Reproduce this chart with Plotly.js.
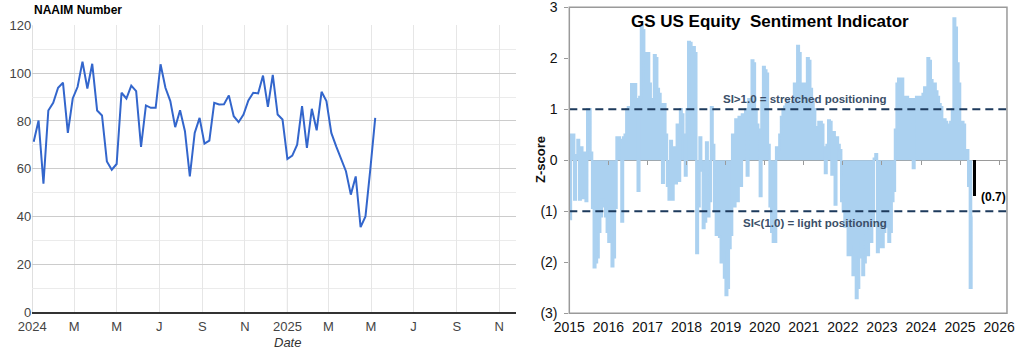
<!DOCTYPE html>
<html>
<head>
<meta charset="utf-8">
<script src="https://cdn.plot.ly/plotly-3.0.1.min.js"></script>
<style>html,body{margin:0;padding:0;background:#fff;}#chart{width:1019px;height:353px;}</style>
</head>
<body>
<div id="chart"></div>
<script>
// ---------------- NAAIM (left panel) ----------------
const naaimStart = '2024-01-03';           // first weekly reading
const naaimValues = [71.3, 80.2, 53.8, 84.4, 87.6, 93.9, 96.0, 75.0, 89.4, 94.3,
  104.8, 93.6, 103.9, 84.4, 82.3, 63.1, 59.6, 62.0, 91.8, 89.4,
  94.8, 92.5, 69.2, 86.5, 85.5, 85.5, 103.7, 93.9, 88.3, 77.4,
  84.5, 75.7, 56.8, 75.0, 81.3, 70.5, 71.8, 87.6, 86.9, 87.0,
  90.7, 82.0, 79.5, 82.7, 88.6, 91.8, 91.5, 99.0, 85.9, 99.3,
  82.7, 80.6, 64.1, 65.5, 70.1, 86.2, 68.7, 85.1, 76.1, 92.2,
  88.3, 75.0, 69.4, 64.5, 59.0, 49.2, 56.8, 35.6, 40.1, 60.0, 81.3];
const naaimTickVals = ['2024-01-01','2024-03-01','2024-05-01','2024-07-01','2024-09-01','2024-11-01',
  '2025-01-01','2025-03-01','2025-05-01','2025-07-01','2025-09-01','2025-11-01'];
const naaimTickText = ['2024','M','M','J','S','N','2025','M','M','J','S','N'];

// ---------------- GS Sentiment Indicator (right panel), half-monthly ----------------
const gs2015 = [-1.15,0.5, 0.5,-0.77, 0.1,0.4, -0.77,0.25, -0.74,0.15, -0.8,1.0, 1.0,0.15, -0.93,-2.1, -2.0,-1.9, -1.4,-1.1, -0.77,-0.9, -1.1,-1.4];
const gs2016 = [-1.6,-1.4, -2.08,-1.9, -0.93,0.45, 0.45,0.4, -1.2,0.45, 0.5,1.0, 1.04,0.9, 1.49,1.24, 1.49,1.2, -0.6,1.24, 2.63,2.55, 2.1,1.5];
const gs2017 = [2.1,1.5, 1.0,1.2, 2.06,2.0, 1.4,1.3, 1.1,-0.44, 1.1,0.5, -0.5,-0.77, 0.38,-0.77, 0.25,-0.45, 0.7,-0.4, 1.0,0.9, 0.5,-0.3];
const gs2018 = [1.0,2.32, 2.3,0.5, 2.22,2.1, -1.82,-0.9, 0.45,-0.2, -1.33,-1.2, 0.35,-1.1, -0.8,1.04, 0.3,-1.0, -1.46,-1.3, -1.5,-2.0, -1.8,-2.3];
const gs2019 = [-2.64,-2.5, -1.72,-1.46, 0.5,-0.9, 0.8,-0.8, 0.85,-0.5, 0.9,0.6, 1.0,-0.3, 1.2,0.9, 1.96,1.9, 1.0,0.7, 0.6,-0.7, 1.2,1.83];
const gs2020 = [1.76,1.7, 0.3,-0.9, -1.4,-1.6, -1.6,0.25, 0.2,0.5, 0.85,1.0, 1.05,1.1, 1.17,1.1, 1.0,1.15, 1.5,1.3, 2.24,2.1, 1.5,1.45];
const gs2021 = [1.5,1.3, 2.0,1.95, 1.4,1.2, 1.0,0.65, 0.6,0.75, 0.75,0.7, 0.25,-0.25, 0.3,0.78, 0.75,-0.28, 0.55,-0.87, 0.45,0.3, 0.2,-0.8];
const gs2022 = [-1.0,-1.3, -1.1,-1.86, -1.7,-1.86, -2.25,-2.0, -2.7,-2.5, -1.9,-1.6, -2.25,-2.0, -1.46,-1.86, -1.3,-1.6, -1.2,0.03, 0.12,-1.8, -1.3,-1.7];
const gs2023 = [-1.7,-1.4, -1.06,-1.3, -1.6,-1.4, -0.8,-0.6, 0.6,1.5, 1.6,1.55, 1.6,1.24, 1.2,1.24, 1.0,1.2, 1.2,-0.15, 1.2,1.24, 1.24,1.2];
const gs2024 = [1.24,1.3, 1.43,1.4, 2.0,1.95, 1.57,1.5, 1.5,1.35, 1.24,1.1, 1.04,0.8, 0.8,0.75, 0.7,0.7, 0.75,1.0, 2.78,2.6, 1.9,1.5];
const gs2025 = [0.7,0.75, 0.7,0.2, 0.2,-0.5, -2.5,-1.1];
const gsYears = [2015,2016,2017,2018,2019,2020,2021,2022,2023,2024,2025];
const gsSeries = [gs2015,gs2016,gs2017,gs2018,gs2019,gs2020,gs2021,gs2022,gs2023,gs2024,gs2025];
const gsLatest = -0.7;              // latest reading, highlighted
const gsLatestDate = 2025.37;
const gsThresholds = [1, -1];
const gsTickYears = [2015,2016,2017,2018,2019,2020,2021,2022,2023,2024,2025,2026];
const gsYTicks = [-3,-2,-1,0,1,2,3];
const gsYText = ['(3)','(2)','(1)','0','1','2','3'];

// ---------- build ----------
const naaimDates = naaimValues.map((v,i)=>{
  const d = new Date(naaimStart+'T00:00:00Z'); d.setUTCDate(d.getUTCDate()+7*i);
  return d.toISOString().slice(0,10);
});
const gsX = [], gsY = [];
gsSeries.forEach((arr,yi)=>arr.forEach((v,k)=>{ gsX.push(gsYears[yi]+(k+0.5)/24); gsY.push(v); }));

const FONT = 'Arial, "Liberation Sans", sans-serif';
const BLUE = '#abd1f0';
const traces = [
  {x: naaimDates, y: naaimValues, type:'scatter', mode:'lines', xaxis:'x', yaxis:'y',
   line:{color:'#3366cc', width:2}, hoverinfo:'skip'},
  // dense weekly-style columns drawn as a stepped filled area
  {x: gsX, y: gsY, type:'scatter', mode:'lines', xaxis:'x2', yaxis:'y2',
   line:{color:BLUE, width:2.4, shape:'hvh'}, fill:'tozeroy', fillcolor:BLUE, hoverinfo:'skip'},
  {x: [gsLatestDate], y: [gsLatest], type:'bar', xaxis:'x2', yaxis:'y2', width: 0.085,
   marker:{color:'#000', line:{width:0}}, hoverinfo:'skip'},
  {x: [2015], y: [0], type:'scatter', mode:'markers', xaxis:'x3', yaxis:'y2',
   marker:{opacity:0}, hoverinfo:'skip'}
];

const yearShapes = naaimTickVals.filter((v,i)=>/^\d{4}$/.test(naaimTickText[i])).map(v=>({
  type:'line', xref:'x', yref:'y domain', x0:v, x1:v, y0:0, y1:1,
  line:{color:'#c6c6c6', width:1}, layer:'below'}));
const threshShapes = gsThresholds.map(t=>({
  type:'line', xref:'x2 domain', yref:'y2', x0:0, x1:1, y0:t, y1:t,
  line:{color:'#1d3a5c', width:2, dash:'8px,5px'}}));
const boxShape = [{type:'rect', xref:'x2 domain', yref:'y2 domain', x0:0, x1:1, y0:0, y1:1,
  line:{color:'#9a9a9a', width:1.5}, fillcolor:'rgba(0,0,0,0)'}];

const layout = {
  width:1019, height:353, margin:{l:0,r:0,t:0,b:0},
  paper_bgcolor:'#fff', plot_bgcolor:'#fff', showlegend:false, bargap:0, barmode:'overlay',
  font:{family:FONT, size:13, color:'#444'},
  xaxis:{type:'date', domain:[0.0317,0.5064], anchor:'y', range:['2024-01-01','2025-11-25'],
    tickmode:'array', tickvals:naaimTickVals, ticktext:naaimTickText, showgrid:true, gridcolor:'#e6e6e6',
    ticks:'', showline:true, linecolor:'#333', linewidth:1.5, tickfont:{size:13,color:'#444'}, zeroline:false,
    ticklabelstandoff:2},
  yaxis:{domain:[0.1153,0.9283], anchor:'x', range:[0,120], dtick:20, tick0:0, gridcolor:'#cccccc',
    minor:{dtick:10, showgrid:true, gridcolor:'#ebebeb', ticks:''}, ticks:'', zeroline:false,
    tickfont:{size:13,color:'#444'}, showline:false, ticklabeloverflow:'allow'},
  xaxis2:{domain:[0.5587,0.9882], anchor:'y2', range:[2015,2026.2], tickmode:'array', tickvals:gsTickYears,
    showgrid:false, zeroline:false, showline:false, ticks:'',
    tickfont:{size:14,color:'#111'}, ticklabelstandoff:4, ticklabeloverflow:'allow'},
  xaxis3:{domain:[0.5587,0.9882], overlaying:'x2', anchor:'free', position:0.5459, range:[2015,2026.2],
    tickmode:'array', tickvals:gsTickYears, ticks:'outside', ticklen:4, tickcolor:'#9a9a9a', tickwidth:1,
    showticklabels:false, showgrid:false, zeroline:false, showline:false},
  yaxis2:{domain:[0.1125,0.9793], anchor:'x2', range:[-3,3], tickmode:'array', tickvals:gsYTicks, ticktext:gsYText,
    showgrid:false, zeroline:true, zerolinecolor:'#9a9a9a', zerolinewidth:1.5, showline:false,
    ticks:'outside', ticklen:4, tickcolor:'#9a9a9a',
    tickfont:{size:14,color:'#111'}, ticklabelstandoff:4, ticklabeloverflow:'allow'},
  shapes: yearShapes.concat(threshShapes, boxShape),
  annotations:[
    {text:'<b>NAAIM Number</b>', xref:'paper', yref:'paper', x:32/1019, y:(353-10)/353, xanchor:'left', yanchor:'middle',
     showarrow:false, font:{family:FONT, size:12, color:'#000'}},
    {text:'<i>Date</i>', xref:'paper', yref:'paper', x:287/1019, y:(353-342)/353, xanchor:'center', yanchor:'middle',
     showarrow:false, font:{family:FONT, size:13, color:'#333'}},
    {text:'<b>GS US Equity  Sentiment Indicator</b>', xref:'paper', yref:'paper', x:770/1019, y:(353-22)/353,
     xanchor:'center', yanchor:'middle', showarrow:false, font:{family:FONT, size:17, color:'#000'}},
    {text:'<b>Z-score</b>', xref:'paper', yref:'paper', x:540/1019, y:(353-160)/353, textangle:-90,
     xanchor:'center', yanchor:'middle', showarrow:false, font:{family:FONT, size:13, color:'#111'}},
    {text:'<b>SI>1.0 = stretched positioning</b>', xref:'x2', yref:'y2', x:2021.03, y:1.2,
     xanchor:'center', yanchor:'middle', showarrow:false, font:{family:FONT, size:11.5, color:'#3b4f68'}},
    {text:'<b>SI<(1.0) = light positioning</b>', xref:'x2', yref:'y2', x:2021.29, y:-1.23,
     xanchor:'center', yanchor:'middle', showarrow:false, font:{family:FONT, size:11.5, color:'#3b4f68'}},
    {text:'<b>(0.7)</b>', xref:'x2', yref:'y2', x:gsLatestDate+0.12, y:gsLatest-0.02,
     xanchor:'left', yanchor:'middle', showarrow:false, font:{family:FONT, size:12, color:'#000'}}
  ]
};
Plotly.newPlot('chart', traces, layout, {staticPlot:true, displayModeBar:false});
</script>
</body>
</html>
